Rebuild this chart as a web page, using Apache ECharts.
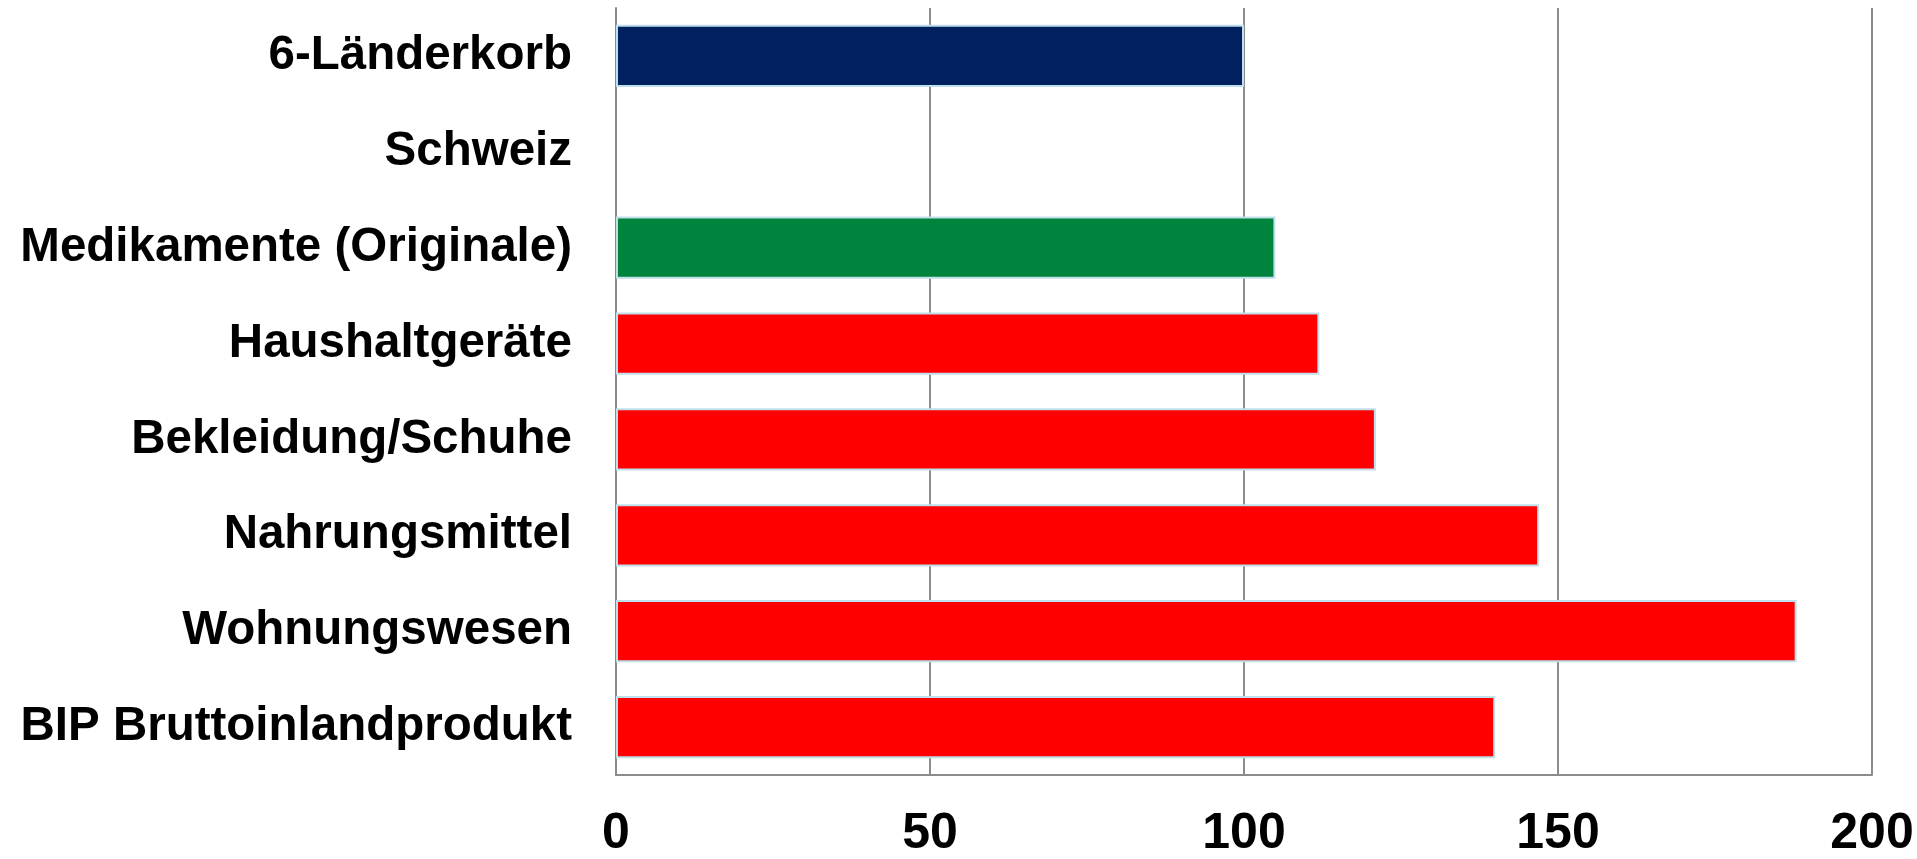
<!DOCTYPE html>
<html>
<head>
<meta charset="utf-8">
<script src="https://cdn.jsdelivr.net/npm/echarts@6/dist/echarts.min.js"></script>
<style>
  html, body { margin: 0; padding: 0; background: #ffffff; overflow: hidden; }
  #chart { width: 1917px; height: 859px; }
</style>
</head>
<body>
<div id="chart"></div>
<script>
// Price level index per category (6-country basket = 100)
const categories = [
  '6-Länderkorb',
  'Schweiz',
  'Medikamente (Originale)',
  'Haushaltgeräte',
  'Bekleidung/Schuhe',
  'Nahrungsmittel',
  'Wohnungswesen',
  'BIP Bruttoinlandprodukt'
];
const values = [100, null, 105, 112, 121, 147, 188, 140];
const axisTicks = [0, 50, 100, 150, 200];

// Bar fill per row
const barColors = ['#002060', '#002060', '#00843d', '#ff0000', '#ff0000', '#ff0000', '#ff0000', '#ff0000'];

const chart = echarts.init(document.getElementById('chart'));
const font = 'Liberation Sans, Arial, Helvetica, sans-serif';
const gridGray = '#8c8c8c';

chart.setOption({
  animation: false,
  backgroundColor: '#ffffff',
  grid: { left: 616, right: 45, top: 8, bottom: 78, containLabel: false },
  xAxis: {
    type: 'value',
    min: axisTicks[0],
    max: axisTicks[axisTicks.length - 1],
    interval: axisTicks[1] - axisTicks[0],
    axisLine: { show: true, lineStyle: { color: gridGray, width: 2 } },
    axisTick: { show: false },
    splitLine: { show: true, lineStyle: { color: gridGray, width: 2 } },
    axisLabel: {
      margin: 34,
      fontFamily: font,
      fontWeight: 'bold',
      fontSize: 50,
      color: '#000000'
    }
  },
  yAxis: {
    type: 'category',
    inverse: true,
    data: categories,
    axisLine: { show: true, lineStyle: { color: gridGray, width: 2 } },
    axisTick: { show: false },
    splitLine: { show: false },
    axisLabel: {
      margin: 44,
      fontFamily: font,
      fontWeight: 'bold',
      fontSize: 47.5,
      color: '#000000'
    }
  },
  series: [{
    type: 'bar',
    barWidth: '65%',
    data: values.map((v, i) => ({
      value: v,
      itemStyle: { color: barColors[i] }
    })),
    itemStyle: { borderColor: '#bfe0ea', borderWidth: 2 }
  }]
});
</script>
</body>
</html>
